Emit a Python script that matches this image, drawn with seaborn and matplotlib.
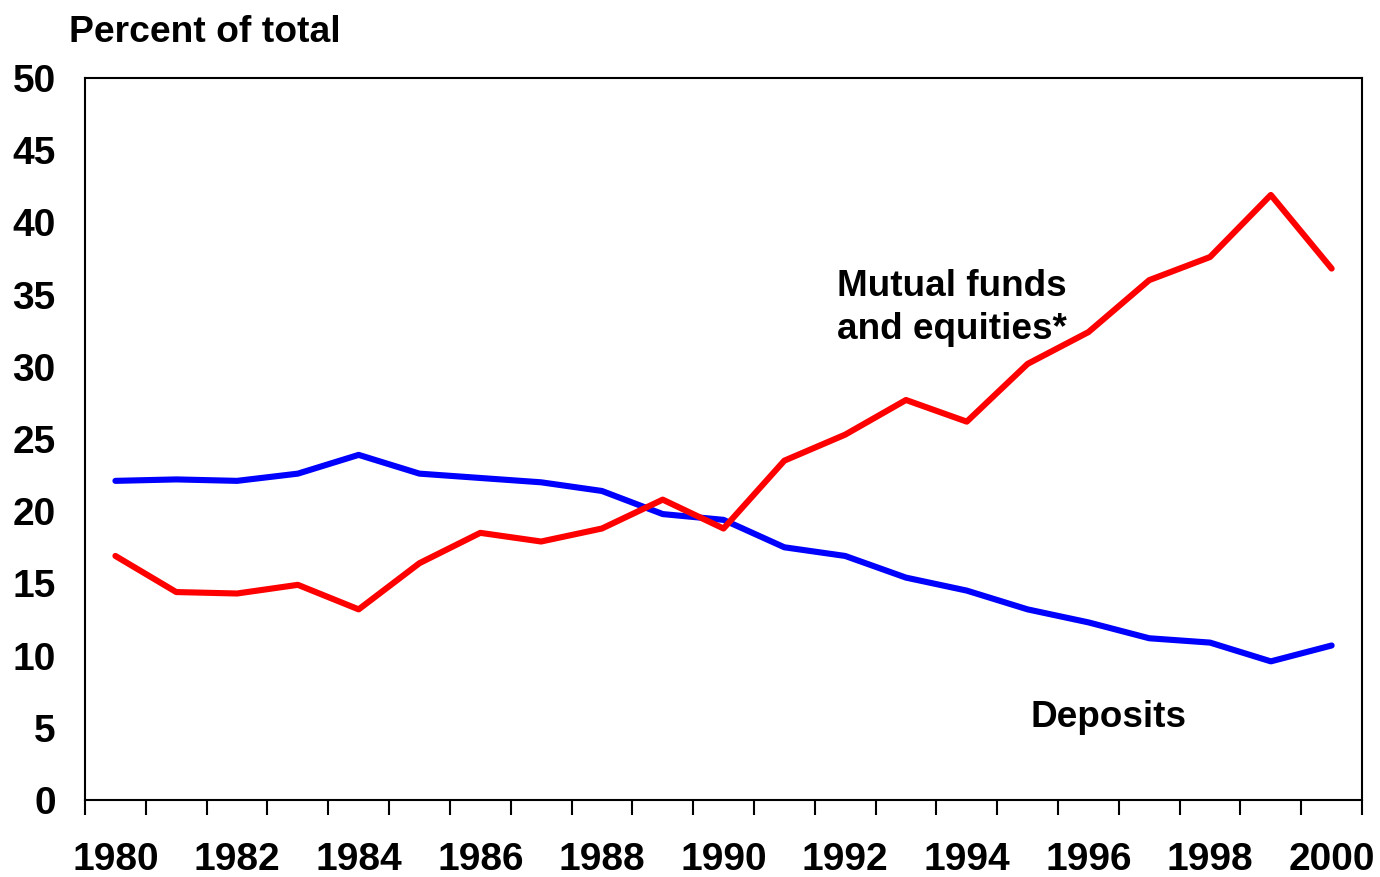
import pandas as pd
import matplotlib
matplotlib.use('Agg')
import matplotlib.pyplot as plt
import seaborn as sns

years = list(range(1980, 2001))
deposits = [22.1, 22.2, 22.1, 22.6, 23.9, 22.6, 22.3, 22.0, 21.4, 19.8, 19.4,
            17.5, 16.9, 15.4, 14.5, 13.2, 12.3, 11.2, 10.9, 9.6, 10.7]
mutual_funds = [16.9, 14.4, 14.3, 14.9, 13.2, 16.4, 18.5, 17.9, 18.8, 20.8, 18.8,
                23.5, 25.3, 27.7, 26.2, 30.2, 32.4, 36.0, 37.6, 41.9, 36.8]
y_ticks = list(range(0, 51, 5))


def main():
    sns.set_theme(style='white')
    plt.rcParams['font.family'] = ['Liberation Sans', 'DejaVu Sans']
    plt.rcParams['font.weight'] = 'bold'
    plt.rcParams['text.color'] = 'black'
    plt.rcParams['xtick.color'] = 'black'
    plt.rcParams['ytick.color'] = 'black'

    n = len(years)
    df = pd.DataFrame({
        'idx': list(range(n)) * 2,
        'value': deposits + mutual_funds,
        'series': ['Deposits'] * n + ['Mutual funds'] * n,
    })

    fig = plt.figure(figsize=(13.8, 8.77), dpi=100)
    ax = fig.add_axes([0.0616, 0.0878, 0.9254, 0.8233])
    sns.lineplot(data=df, x='idx', y='value', hue='series',
                 palette={'Deposits': '#0000ff', 'Mutual funds': '#ff0000'},
                 linewidth=4.4, legend=False, ax=ax)

    ax.set_xlim(-0.5, n - 0.5)
    ax.set_ylim(0, 50)
    ax.set_xticks([i - 0.5 for i in range(n + 1)], minor=True)
    ax.set_xticks(list(range(0, n, 2)))
    ax.set_xticklabels([str(y) for y in years[::2]], fontsize=28, fontweight='bold')
    ax.tick_params(axis='x', which='minor', direction='out', length=11, width=1.5,
                   color='black', bottom=True)
    ax.tick_params(axis='x', which='major', length=0, pad=30)
    ax.set_yticks(y_ticks)
    ax.set_yticklabels([str(v) for v in y_ticks], fontsize=28, fontweight='bold')
    ax.tick_params(axis='y', length=0, pad=21)
    ax.set_xlabel('')
    ax.set_ylabel('')
    for s in ax.spines.values():
        s.set_color('black')
        s.set_linewidth(1.5)

    fig.text(0.05, 0.963, 'Percent of total', fontsize=26.8, fontweight='bold',
             ha='left', va='center')
    ax.text(11.87, 34.07, 'Mutual funds\nand equities*', fontsize=26.6, fontweight='bold',
            ha='left', va='center', linespacing=1.32)
    ax.text(15.04, 5.68, 'Deposits', fontsize=26.6, fontweight='bold',
            ha='left', va='center')

    fig.savefig('out.png', dpi=100)


if __name__ == '__main__':
    main()
